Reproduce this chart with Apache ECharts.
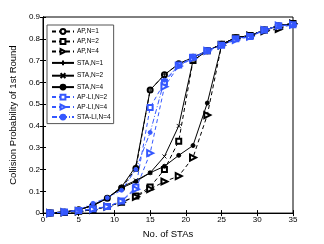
<!DOCTYPE html>
<html><head><meta charset="utf-8">
<script src="https://cdn.jsdelivr.net/npm/echarts@6/dist/echarts.min.js"></script>
<style>html,body{margin:0;padding:0;background:#fff}#c{width:324px;height:244px}</style>
</head><body><div id="c"></div>
<script>
const xs = [1,3,5,7,9,11,13,15,17,19,21,23,25,27,29,31,33,35];
const apN1 =   [0.001,0.005,0.015,0.035,0.068,0.115,0.205,0.565,0.635,0.685,0.715,0.745,0.775,0.805,0.815,0.840,0.860,0.870];
const apN2 =   [0.000,0.003,0.008,0.015,0.030,0.050,0.078,0.120,0.200,0.330,0.700,0.745,0.775,0.805,0.815,0.840,0.855,0.870];
const apN4 =   [0.000,0.003,0.008,0.015,0.030,0.050,0.075,0.110,0.145,0.170,0.255,0.450,0.770,0.800,0.815,0.835,0.845,0.870];
const staN1 =  [0.001,0.005,0.015,0.038,0.068,0.120,0.215,0.565,0.635,0.685,0.715,0.745,0.775,0.805,0.815,0.840,0.860,0.870];
const staN2 =  [0.001,0.005,0.015,0.035,0.068,0.120,0.150,0.185,0.260,0.400,0.700,0.745,0.775,0.805,0.815,0.840,0.860,0.870];
const staN4 =  [0.001,0.005,0.015,0.035,0.068,0.115,0.145,0.185,0.215,0.265,0.310,0.505,0.770,0.805,0.815,0.840,0.860,0.870];
const apliN2 = [0.000,0.005,0.012,0.020,0.030,0.055,0.120,0.485,0.600,0.680,0.715,0.745,0.770,0.800,0.810,0.840,0.860,0.865];
const apliN4 = [0.000,0.005,0.010,0.018,0.030,0.055,0.110,0.275,0.580,0.675,0.710,0.745,0.770,0.795,0.810,0.840,0.860,0.865];
const staliN4 =[0.001,0.005,0.015,0.045,0.070,0.105,0.200,0.370,0.610,0.675,0.715,0.745,0.770,0.800,0.815,0.840,0.860,0.860];
const xTicks = [0,5,10,15,20,25,30,35];
const yTicks = [0,0.1,0.2,0.3,0.4,0.5,0.6,0.7,0.8,0.9];

const BLK = '#000', BLU = '#3558ff';
const plus = 'path://M0,5L10,5M5,0L5,10';
const cross = 'path://M0,0L10,10M10,0L0,10';
function mk(name, data, color, type, symbol, size, rot, fill){
  return {name, type:'line', data: xs.map((x,i)=>[x,data[i]]),
    symbol, symbolSize:size, symbolRotate:rot||0, showAllSymbol:true,
    lineStyle:{color, width:1, type},
    itemStyle:{color: fill||color, borderColor:color, borderWidth:0.9},
    emphasis:{disabled:true}, z:2};
}
const series = [
  mk('AP,N=1', apN1, BLK, [4,3], 'emptyCircle', 5),
  mk('AP,N=2', apN2, BLK, [4,3], 'emptyRect', 5),
  mk('AP,N=4', apN4, BLK, [4,3], 'emptyTriangle', 6, -90),
  mk('STA,N=1', staN1, BLK, 'solid', plus, 5, 0, 'none'),
  mk('STA,N=2', staN2, BLK, 'solid', cross, 4, 0, 'none'),
  mk('STA,N=4', staN4, BLK, 'solid', 'circle', 4),
  mk('AP-LI,N=2', apliN2, BLU, [4,3], 'emptyRect', 5),
  mk('AP-LI,N=4', apliN4, BLU, [4,3], 'emptyTriangle', 6, -90),
  mk('STA-LI,N=4', staliN4, BLU, [5,2,1,2], 'circle', 4),
];
const font = 'Liberation Sans, Arial, sans-serif';
const chart = echarts.init(document.getElementById('c'), null, {renderer:'canvas'});
chart.setOption({
  animation:false,
  backgroundColor:'#fff',
  grid:{left:42,right:31,top:17,bottom:27,show:true,borderColor:'#000',borderWidth:1,backgroundColor:'#fff'},
  legend:{orient:'vertical',left:47,top:25,itemWidth:22,itemHeight:6,itemGap:3,
    backgroundColor:'#fff',borderColor:'#555',borderWidth:1,padding:[3,3,3,4],
    textStyle:{fontSize:6.5,fontFamily:font,color:'#000',padding:[0,0,0,-2]},
    data:series.map(s=>s.name)},
  xAxis:[{type:'value',min:0,max:35,interval:5,position:'bottom',
    name:'No. of STAs',nameLocation:'middle',nameGap:12,
    nameTextStyle:{fontSize:9.5,fontFamily:font,color:'#000'},
    axisLine:{show:true,lineStyle:{color:'#000'}},
    axisTick:{inside:true,length:3,lineStyle:{color:'#000'}},
    axisLabel:{fontSize:8,fontFamily:font,color:'#000',margin:3},
    splitLine:{show:false}},
   {type:'value',min:0,max:35,interval:5,position:'top',
    axisLine:{show:true,lineStyle:{color:'#000'}},
    axisTick:{inside:true,length:3,lineStyle:{color:'#000'}},
    axisLabel:{show:false},splitLine:{show:false}}],
  yAxis:[{type:'value',min:0,max:0.9,interval:0.1,position:'left',
    name:'Collision Probability of 1st Round',nameLocation:'middle',nameGap:23,
    nameTextStyle:{fontSize:9.5,fontFamily:font,color:'#000'},
    axisLine:{show:true,lineStyle:{color:'#000'}},
    axisTick:{inside:true,length:3,lineStyle:{color:'#000'}},
    axisLabel:{fontSize:8,fontFamily:font,color:'#000',margin:3,
      formatter:v=>{const s=yTicks.find(t=>Math.abs(t-v)<1e-9);return s===0?'0':String(+v.toFixed(1));}},
    splitLine:{show:false}},
   {type:'value',min:0,max:0.9,interval:0.1,position:'right',
    axisLine:{show:true,lineStyle:{color:'#000'}},
    axisTick:{inside:true,length:3,lineStyle:{color:'#000'}},
    axisLabel:{show:false},splitLine:{show:false}}],
  series
});
</script></body></html>
